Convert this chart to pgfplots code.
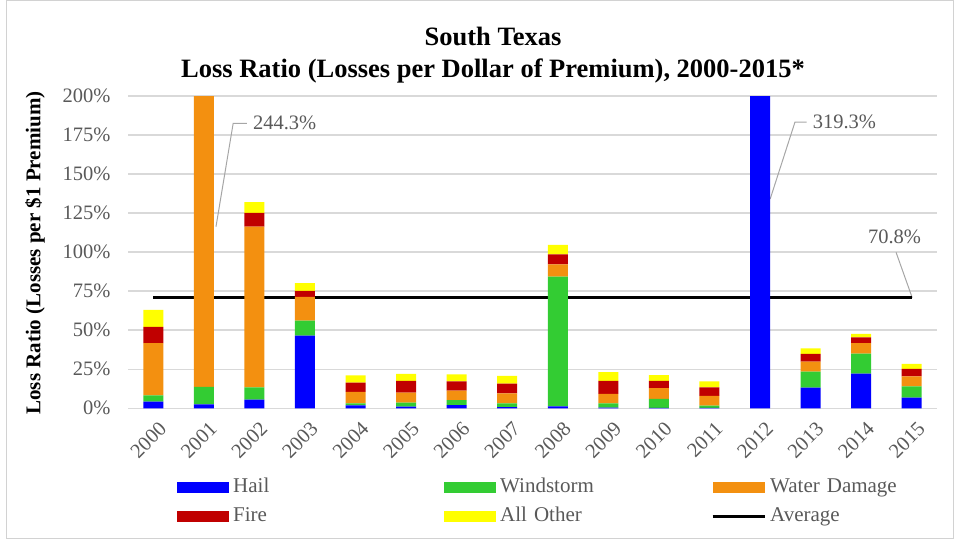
\documentclass[border=0pt]{standalone}
\usepackage{pgfplots}
\pgfplotsset{compat=1.18}
\usepackage{pgfplotstable}
\usepackage{fontspec}
\setmainfont{Liberation Serif}

\definecolor{hail}{HTML}{0000FF}
\definecolor{wind}{HTML}{33CC33}
\definecolor{water}{HTML}{F39010}
\definecolor{fire}{HTML}{C00000}
\definecolor{other}{HTML}{FFFF00}
\definecolor{txt}{HTML}{595959}
\definecolor{gridc}{HTML}{D9D9D9}
\definecolor{lead}{HTML}{A6A6A6}

\newcommand{\tickfont}{\fontsize{20.5}{24}\selectfont}

% loss ratio (%) by peril, x = year - 2000
\pgfplotstableread{
x  H      W     WD     F     O
0  4.2    4.1   33.5   10.3  10.9
1  2.5    11.3  217.5  8.0   5.0
2  5.5    7.9   102.9  8.8   7.0
3  46.5   9.6   15.2   3.9   5.0
4  1.9    1.3   7.4    5.8   4.7
5  1.0    2.6   6.4    7.5   4.5
6  2.1    3.2   6.0    6.0   4.5
7  0.8    2.4   6.4    6.2   4.9
8  1.2    83.1  7.9    6.4   6.0
9  0.5    2.7   6.0    8.3   5.7
10 0.3    5.7   7.0    4.5   3.8
11 0.3    1.4   6.2    5.5   3.9
12 319.3  0     0      0     0
13 13.2   10.3  6.4    4.9   3.6
14 22.2   12.8  6.8    3.7   2.1
15 6.8    7.3   6.4    4.7   3.2
}\loss

\begin{document}
\begin{tikzpicture}
\path[use as bounding box] (0pt,0pt) rectangle (955pt,539pt);
\draw[gray!35, line width=1pt] (6pt,1pt) rectangle (953pt,538pt);
\node[align=center, font=\fontsize{26.5}{32}\selectfont\bfseries] at (493pt,484pt)
  {South Texas\\Loss Ratio (Losses per Dollar of Premium), 2000-2015*};
\node[rotate=90, font=\fontsize{21}{24}\selectfont\bfseries] at (35pt,286pt)
  {Loss Ratio (Losses per \$1 Premium)};
\begin{axis}[
  at={(128pt,130.7pt)}, anchor=south west,
  scale only axis, width=809pt, height=312.3pt,
  xmin=-0.5, xmax=15.5, ymin=0, ymax=200,
  stack plots=y, bar width=20pt, bar shift=0pt,
  ymajorgrids, grid style={gridc, line width=1.5pt},
  axis x line*=bottom, axis y line*=left,
  x axis line style={gridc, line width=1.5pt, -},
  y axis line style={draw=none},
  major tick length=0pt,
  xtick={0,...,15},
  xticklabels={2000,2001,2002,2003,2004,2005,2006,2007,2008,2009,2010,2011,2012,2013,2014,2015},
  ytick={0,25,...,200},
  yticklabels={0\%,25\%,50\%,75\%,100\%,125\%,150\%,175\%,200\%},
  tick label style={font=\tickfont, text=txt},
  xticklabel style={rotate=45, anchor=east, yshift=-19pt, xshift=-2pt},
  yticklabel style={anchor=east, xshift=-14pt},
  clip mode=individual,
  bars/.style={ybar, draw=none, fill=#1,
    legend image code/.code={\fill[#1] (0pt,-5.5pt) rectangle (52pt,5.5pt);}},
  legend columns=3,
  legend cell align=left,
  legend style={at={(0.0606,-0.213)}, anchor=north west, draw=none, fill=none,
    inner sep=0pt, font=\fontsize{21}{24}\selectfont, text=txt, row sep=5pt,
    nodes={text height=15pt, text depth=5pt},
    /tikz/every odd column/.append style={column sep=2pt},
    /tikz/every even column/.append style={text width=209pt}},
]
\addplot[bars=hail]  table[x=x, y=H]  {\loss}; \addlegendentry{Hail}
\addplot[bars=wind]  table[x=x, y=W]  {\loss}; \addlegendentry{Windstorm}
\addplot[bars=water] table[x=x, y=WD] {\loss}; \addlegendentry{Water Damage}
\addplot[bars=fire]  table[x=x, y=F]  {\loss}; \addlegendentry{Fire}
\addplot[bars=other] table[x=x, y=O]  {\loss}; \addlegendentry{All Other}
\addplot[stack plots=false, sharp plot, black, line width=3pt,
  legend image code/.code={\draw[black, line width=3pt] (0pt,0pt) -- (52pt,0pt);}]
  coordinates {(0,70.8) (15,70.8)};
\addlegendentry{Average}

% call-outs
\draw[lead, line width=1pt] (axis cs:1.24,116.3) -- (axis cs:1.58,182.5) -- (axis cs:1.85,182.5);
\node[anchor=west, inner sep=0pt, xshift=6pt, font=\tickfont, text=txt] at (axis cs:1.85,182.5) {244.3\%};
\draw[lead, line width=1pt] (axis cs:12.20,134.0) -- (axis cs:12.69,183.2) -- (axis cs:12.92,183.2);
\node[anchor=west, inner sep=0pt, xshift=6pt, font=\tickfont, text=txt] at (axis cs:12.92,183.2) {319.3\%};
\draw[lead, line width=1pt] (axis cs:15.01,70.8) -- (axis cs:14.69,99.9);
\node[inner sep=0pt, font=\tickfont, text=txt] at (axis cs:14.66,109.9) {70.8\%};
\end{axis}
\end{tikzpicture}
\end{document}
